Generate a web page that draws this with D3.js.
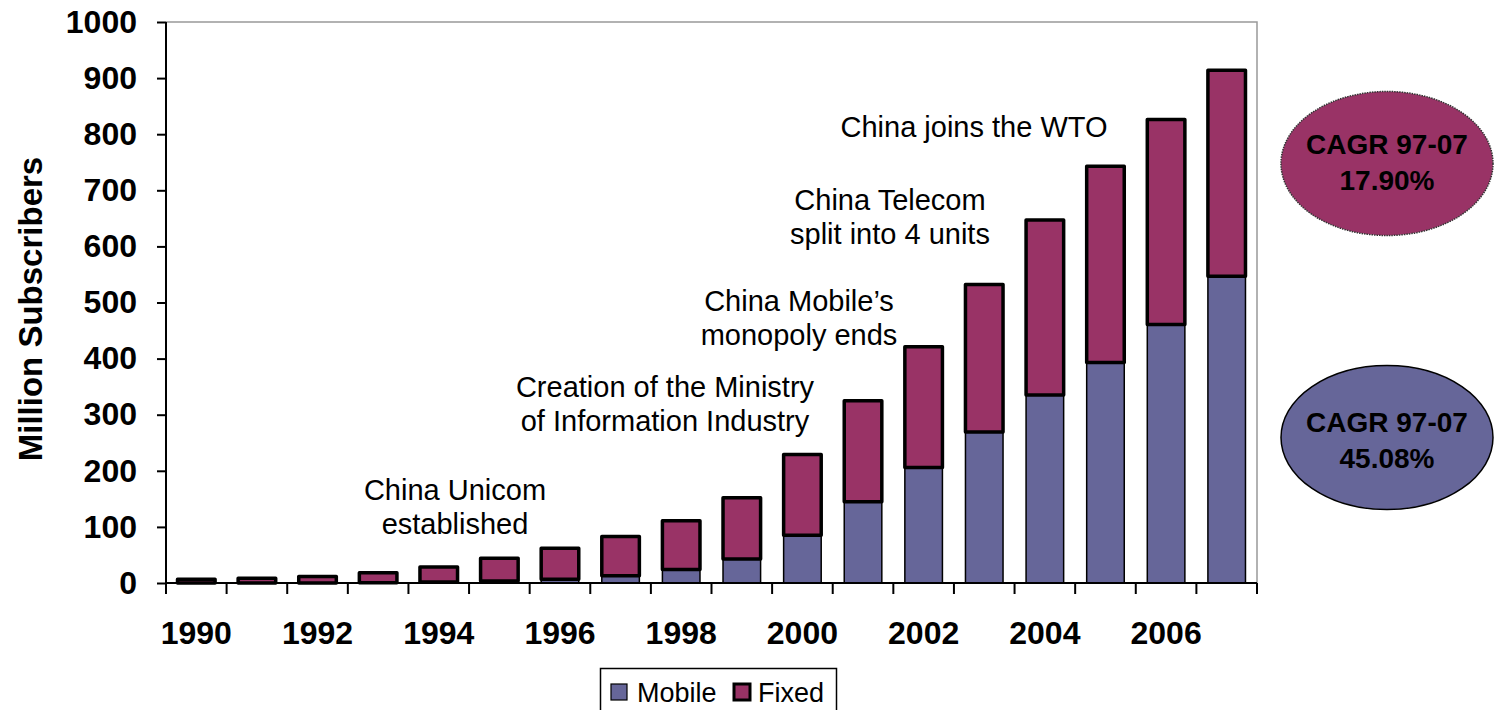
<!DOCTYPE html>
<html>
<head>
<meta charset="utf-8">
<script src="https://cdn.jsdelivr.net/npm/d3@7"></script>
<style>
  html, body { margin: 0; padding: 0; background: #fff; }
  svg { display: block; font-family: "Liberation Sans", Arial, sans-serif; }
</style>
</head>
<body>
<svg id="chart" width="1500" height="710"></svg>
<script>
// ---- data ----
const years = ["1990","1991","1992","1993","1994","1995","1996","1997","1998","1999","2000","2001","2002","2003","2004","2005","2006","2007"];
const mobile = [0.02, 0.05, 0.2, 0.6, 1.6, 3.6, 6.9, 13, 24, 43, 85, 145, 206, 269, 335, 393, 461, 547];
const fixed  = [6.5, 8.5, 11.5, 17.5, 27, 40.5, 55, 70, 87, 109, 144, 180, 215, 263, 312, 350, 365, 367];
const yTicks = [0, 100, 200, 300, 400, 500, 600, 700, 800, 900, 1000];
const xTickLabels = ["1990","1992","1994","1996","1998","2000","2002","2004","2006"];
const seriesNames = ["Mobile", "Fixed"];
const annotations = [
  { year: "1994", lines: ["China Unicom", "established"] },
  { year: "1997", lines: ["Creation of the Ministry", "of Information Industry"] },
  { year: "1999", lines: ["China Mobile\u2019s", "monopoly ends"] },
  { year: "2001", lines: ["China Telecom", "split into 4 units"] },
  { year: "2002", lines: ["China joins the WTO"] }
];
const cagr = [
  { series: "Fixed", lines: ["CAGR 97-07", "17.90%"] },
  { series: "Mobile", lines: ["CAGR 97-07", "45.08%"] }
];

// ---- style ----
const colors = { Mobile: "#666699", Fixed: "#993366" };
const svg = d3.select("#chart");
const pL = 166, pR = 1257, pT = 22, pB = 583;

const x = d3.scaleBand().domain(years).range([pL, pR]).paddingInner(0.38).paddingOuter(0.19);
const y = d3.scaleLinear().domain([0, 1000]).range([pB, pT]);

// plot frame (gray top & right)
svg.append("path")
  .attr("d", `M${pL},${pT}H${pR}V${pB}`)
  .attr("fill", "none").attr("stroke", "#999").attr("stroke-width", 1.5);

// bars
const g = svg.append("g");
years.forEach((yr, i) => {
  g.append("rect")
    .attr("x", x(yr)).attr("width", x.bandwidth())
    .attr("y", y(mobile[i])).attr("height", y(0) - y(mobile[i]))
    .attr("fill", colors.Mobile).attr("stroke", "#000").attr("stroke-width", 1.5);
});
years.forEach((yr, i) => {
  g.append("rect")
    .attr("x", x(yr)).attr("width", x.bandwidth())
    .attr("y", y(mobile[i] + fixed[i])).attr("height", y(mobile[i]) - y(mobile[i] + fixed[i]))
    .attr("fill", colors.Fixed).attr("stroke", "#000").attr("stroke-width", 3.5)
    .attr("stroke-linejoin", "round");
});

// y axis
const yAxis = d3.axisLeft(y).tickValues(yTicks).tickSize(9).tickPadding(20).tickFormat(d3.format("d"));
const ya = svg.append("g").attr("transform", `translate(${pL},0)`).call(yAxis);
ya.select(".domain").attr("stroke", "#000").attr("stroke-width", 2).attr("d", `M0,${pT}V${pB}`);
ya.selectAll(".tick line").attr("stroke", "#000").attr("stroke-width", 2);
ya.selectAll(".tick text").attr("font-size", 32).attr("font-weight", "bold").attr("fill", "#000")
  .attr("font-family", "Liberation Sans, Arial, sans-serif");

// x axis line and ticks at band edges
svg.append("line").attr("x1", pL).attr("x2", pR).attr("y1", pB).attr("y2", pB)
  .attr("stroke", "#000").attr("stroke-width", 2);
const step = x.step();
const edges = years.map(yr => x(yr) - (step - x.bandwidth()) / 2);
edges.push(pR);
svg.append("g").selectAll("line").data(edges).join("line")
  .attr("x1", d => d).attr("x2", d => d).attr("y1", pB).attr("y2", pB + 11)
  .attr("stroke", "#000").attr("stroke-width", 2);
svg.append("g").selectAll("text").data(xTickLabels).join("text")
  .attr("x", d => x(d) + x.bandwidth() / 2).attr("y", 644)
  .attr("text-anchor", "middle").attr("font-size", 32).attr("font-weight", "bold").text(d => d);

// y title
svg.append("text")
  .attr("transform", "translate(42,309) rotate(-90)")
  .attr("text-anchor", "middle").attr("font-size", 33).attr("font-weight", "bold")
  .text("Million Subscribers");

// annotations
const annX = { "1994": 455, "1997": 665, "1999": 799, "2001": 890, "2002": 974 };
const annBase = { "1994": 500, "1997": 397, "1999": 311, "2001": 210, "2002": 137 };
annotations.forEach(a => {
  const t = svg.append("text").attr("text-anchor", "middle").attr("font-size", 29).attr("fill", "#000");
  a.lines.forEach((l, k) => {
    t.append("tspan").attr("x", annX[a.year]).attr("y", annBase[a.year] + k * 34).text(l);
  });
});

// CAGR ellipses
const ell = { Fixed: { cy: 163.5, base: 154 }, Mobile: { cy: 437.5, base: 432 } };
cagr.forEach(c => {
  svg.append("ellipse")
    .attr("cx", 1387).attr("cy", ell[c.series].cy).attr("rx", 106).attr("ry", 72)
    .attr("fill", colors[c.series]).attr("stroke", c.series === "Fixed" ? "#333" : "#000")
    .attr("stroke-width", 1.5)
    .attr("stroke-dasharray", c.series === "Fixed" ? "1.5,1" : null);
  const t = svg.append("text").attr("text-anchor", "middle").attr("font-size", 28).attr("font-weight", "bold");
  c.lines.forEach((l, k) => {
    t.append("tspan").attr("x", 1387).attr("y", ell[c.series].base + k * 35.5).text(l);
  });
});

// legend
const lg = svg.append("g");
lg.append("rect").attr("x", 600.5).attr("y", 668.5).attr("width", 236).attr("height", 50)
  .attr("fill", "#fff").attr("stroke", "#000").attr("stroke-width", 1.5);
const legendPos = [{ sx: 611, tx: 637 }, { sx: 734, tx: 758 }];
seriesNames.forEach((s, i) => {
  lg.append("rect").attr("x", legendPos[i].sx).attr("y", 684).attr("width", 16).attr("height", 16)
    .attr("fill", colors[s]).attr("stroke", "#000").attr("stroke-width", s === "Fixed" ? 3 : 1.2);
  lg.append("text").attr("x", legendPos[i].tx).attr("y", 702).attr("font-size", 27).text(s);
});
</script>
</body>
</html>
